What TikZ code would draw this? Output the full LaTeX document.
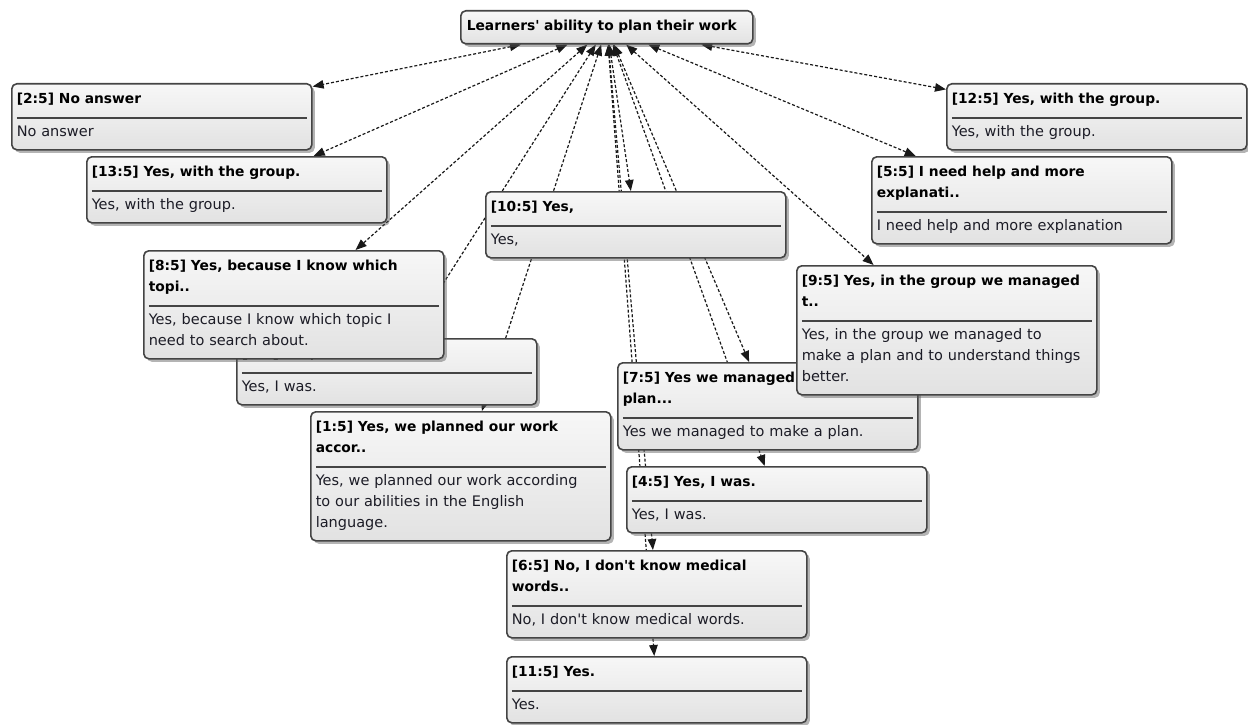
\documentclass[tikz,border=0pt]{standalone}
\usepackage{fontspec}
\setmainfont{DejaVu Sans}
\usetikzlibrary{arrows.meta,shadows}
\pgfdeclarelayer{bg}
\pgfsetlayers{bg,main}
\definecolor{boxline}{HTML}{444444}
\definecolor{boxtop}{HTML}{F7F7F7}
\definecolor{boxbot}{HTML}{E2E2E2}
\definecolor{bodytext}{HTML}{1C1C26}
\newcommand{\qs}{\vrule height14pt depth7pt width0pt}
\newcommand{\qtext}[2]{\parindent0pt
  {\fontsize{13.8}{21}\selectfont\bfseries\qs #1\qs\par}
  \vskip6pt{\color{boxline}\hrule height2pt}\vskip4pt
  {\color{bodytext}\qs #2\qs\par}}
\begin{document}
\begin{tikzpicture}
[x=1pt,y=-1pt,
 quote/.style={draw=boxline,line width=1.6pt,rounded corners=5pt,
   top color=boxtop,bottom color=boxbot,
   drop shadow={shadow xshift=3pt,shadow yshift=-3pt,opacity=.45,fill=black!65},
   text width=290pt,inner xsep=5pt,inner ysep=6pt,align=left,anchor=north west,
   font=\fontsize{14.5}{21}\selectfont},
 code/.style={quote,text width=280pt,inner xsep=6pt,
   font=\fontsize{13.8}{21}\selectfont\bfseries},
 link/.style={<->,>={Triangle[length=11pt,width=8.5pt]},
   dash pattern=on 3pt off 2pt,line width=1.2pt,draw=black!90}]
\useasboundingbox (0,0) rectangle (1248,725);
% code
\node[code] (top) at (460,10) {\qs Learners\textquotesingle{} ability to plan their work\qs};
% quotations, left side
\node[quote] (q2) at (11,83) {\qtext{[2:5] No answer}{No answer}};
\node[quote] (q13) at (86,156) {\qtext{[13:5] Yes, with the group.}{Yes, with the group.}};
\node[quote] (q3) at (236,338) {\qtext{[3:5] Yes, I was.}{Yes, I was.}};
\node[quote] (q8) at (143,250) {\qtext{[8:5] Yes, because I know which\\topi..}{Yes, because I know which topic I\\need to search about.}};
\node[quote] (q1) at (310,411) {\qtext{[1:5] Yes, we planned our work\\accor..}{Yes, we planned our work according\\to our abilities in the English\\language.}};
% quotations, middle
\node[quote] (q10) at (485,191) {\qtext{[10:5] Yes,}{Yes,}};
\node[quote] (q7) at (617,362) {\qtext{[7:5] Yes we managed\\plan...}{Yes we managed to make a plan.}};
\node[quote] (q4) at (626,466) {\qtext{[4:5] Yes, I was.}{Yes, I was.}};
\node[quote] (q6) at (506,550) {\qtext{[6:5] No, I don\textquotesingle{}t know medical\\words..}{No, I don\textquotesingle{}t know medical words.}};
\node[quote] (q11) at (506,656) {\qtext{[11:5] Yes.}{Yes.}};
% quotations, right side
\node[quote] (q12) at (946,83) {\qtext{[12:5] Yes, with the group.}{Yes, with the group.}};
\node[quote] (q5) at (871,156) {\qtext{[5:5] I need help and more\\explanati..}{I need help and more explanation}};
\node[quote] (q9) at (796,265) {\qtext{[9:5] Yes, in the group we managed\\t..}{Yes, in the group we managed to\\make a plan and to understand things\\better.}};
% links
\begin{pgfonlayer}{bg}
\draw[link] (top) -- (q2);
\draw[link] (top) -- (q13);
\draw[link] (top) -- (q8);
\draw[link] (top) -- (q3);
\draw[link] (top) -- (q1);
\draw[link] (top) -- (q10);
\draw[link] (top) -- (q6);
\draw[link] (top) -- (q11);
\draw[link] (top) -- (q4);
\draw[link] (top) -- (q7);
\draw[link] (top) -- (q9);
\draw[link] (top) -- (q5);
\draw[link] (top) -- (q12);
\end{pgfonlayer}
\end{tikzpicture}
\end{document}
